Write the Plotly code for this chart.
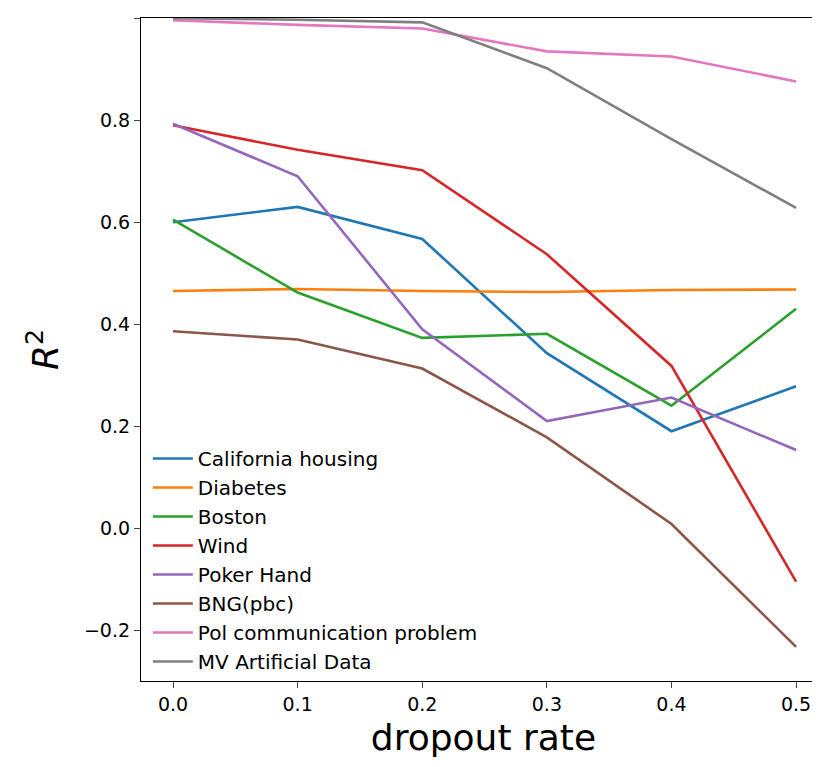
import plotly.graph_objects as go

rates = [0.0, 0.1, 0.2, 0.3, 0.4, 0.5]
yticks = [-0.2, 0.0, 0.2, 0.4, 0.6, 0.8, 1.0]
names = ["California housing", "Diabetes", "Boston", "Wind", "Poker Hand",
         "BNG(pbc)", "Pol communication problem", "MV Artificial Data"]
colors = ["#1f77b4", "#ff7f0e", "#2ca02c", "#d62728", "#9467bd",
          "#8c564b", "#e377c2", "#7f7f7f"]
california = [0.60, 0.63, 0.567, 0.343, 0.19, 0.278]
diabetes = [0.465, 0.469, 0.465, 0.463, 0.467, 0.468]
boston = [0.605, 0.462, 0.373, 0.381, 0.24, 0.43]
wind = [0.79, 0.742, 0.702, 0.537, 0.318, -0.105]
poker = [0.793, 0.69, 0.39, 0.21, 0.256, 0.153]
bng = [0.386, 0.37, 0.313, 0.178, 0.008, -0.233]
pol = [0.996, 0.987, 0.98, 0.935, 0.925, 0.876]
mv = [1.0, 0.997, 0.992, 0.902, 0.763, 0.628]
series = [california, diabetes, boston, wind, poker, bng, pol, mv]

fig = go.Figure()
for n, c, s in zip(names, colors, series):
    fig.add_trace(go.Scatter(x=rates, y=s, name=n, mode="lines",
                             line=dict(color=c, width=2.6)))

axis = dict(showgrid=False, zeroline=False, showline=True, linecolor="black",
            linewidth=1.2, mirror=True, ticks="outside", ticklen=6,
            automargin=False, tickfont=dict(size=19, color="black"))
fig.update_layout(
    width=820, height=767, plot_bgcolor="white", paper_bgcolor="white",
    font=dict(family="DejaVu Sans", color="black"),
    margin=dict(l=133, r=2, t=10, b=94),
    xaxis=dict(axis, range=[-0.0257, 0.524], tickvals=rates, tickformat=".1f",
               title=dict(text="dropout rate", font=dict(size=36), standoff=10)),
    yaxis=dict(axis, range=[-0.3, 1.0005], tickvals=yticks, tickformat=".1f",
               title=dict(text="<i>R</i><sup>2</sup>", font=dict(size=36), standoff=14)),
    legend=dict(x=0.01, y=0.0, xanchor="left", yanchor="bottom",
                bgcolor="rgba(255,255,255,0)", font=dict(size=20),
                tracegroupgap=0, itemwidth=40),
    showlegend=True,
)
fig.write_html("out.html")
